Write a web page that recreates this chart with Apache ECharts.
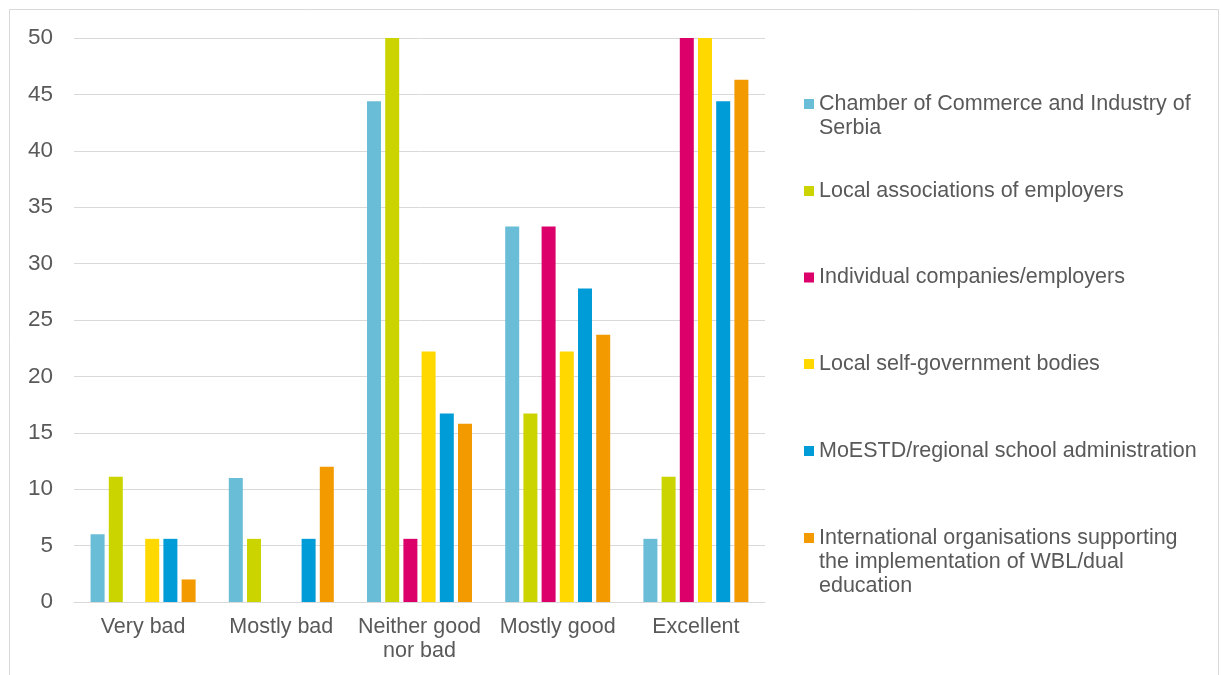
<!DOCTYPE html>
<html>
<head>
<meta charset="utf-8">
<script src="https://cdn.jsdelivr.net/npm/echarts@6/dist/echarts.min.js"></script>
<style>
  html, body { margin: 0; padding: 0; background: #ffffff; }
  #chart { width: 1221px; height: 675px; }
</style>
</head>
<body>
<div id="chart"></div>
<script>
// Ratings given to each partner type (% of respondents)
const categories = ['Very bad', 'Mostly bad', 'Neither good\nnor bad', 'Mostly good', 'Excellent'];

const seriesNames = [
  'Chamber of Commerce and Industry of Serbia',
  'Local associations of employers',
  'Individual companies/employers',
  'Local self-government bodies',
  'MoESTD/regional school administration',
  'International organisations supporting the implementation of WBL/dual education'
];

const legendLabels = [
  'Chamber of Commerce and Industry of\nSerbia',
  'Local associations of employers',
  'Individual companies/employers',
  'Local self-government bodies',
  'MoESTD/regional school administration',
  'International organisations supporting\nthe implementation of WBL/dual\neducation'
];

const chamberValues     = [6.0, 11.0, 44.4, 33.3, 5.6];
const localAssocValues  = [11.1, 5.6, 55.6, 16.7, 11.1];
const companiesValues   = [0, 0, 5.6, 33.3, 55.6];
const selfGovValues     = [5.6, 0, 22.2, 22.2, 50.0];
const moestdValues      = [5.6, 5.6, 16.7, 27.8, 44.4];
const internationalValues = [2.0, 12.0, 15.8, 23.7, 46.3];

const yTicks = { min: 0, max: 50, interval: 5 };

const colors = ['#69bdd7', '#ccd400', '#dc006b', '#ffd800', '#009cd7', '#f29a00'];
const seriesValues = [chamberValues, localAssocValues, companiesValues, selfGovValues, moestdValues, internationalValues];

const FONT = '"Liberation Sans", Arial, sans-serif';
const TEXT = '#595959';
const GRID_LINE = '#d9d9d9';

// One legend block per series, icon aligned with the first text line
const LEGEND_LINE_H = 24;
const legendIconCenters = [104, 191, 277.5, 364, 451, 538];
const legends = seriesNames.map((name, i) => {
  const lines = legendLabels[i].split('\n');
  const pad = lines.length - 1; // blank lines above keep the first line on the icon
  const label = '\n'.repeat(pad) + legendLabels[i];
  const totalLines = lines.length + pad;
  const blockH = Math.max(10, totalLines * LEGEND_LINE_H);
  return {
    data: [name],
    orient: 'vertical',
    left: 804,
    top: legendIconCenters[i] - blockH / 2,
    padding: 0,
    itemWidth: 10,
    itemHeight: 10,
    icon: 'rect',
    selectedMode: false,
    formatter: () => label,
    textStyle: { fontFamily: FONT, fontSize: 21.5, color: TEXT, lineHeight: LEGEND_LINE_H }
  };
});

const chart = echarts.init(document.getElementById('chart'), null, { renderer: 'canvas' });

chart.setOption({
  backgroundColor: '#ffffff',
  animation: false,
  color: colors,
  graphic: [{
    type: 'rect',
    shape: { x: 9.5, y: 9.5, width: 1209, height: 720 },
    style: { fill: 'none', stroke: GRID_LINE, lineWidth: 1 },
    silent: true,
    z: -1
  }],
  grid: { left: 74, right: 456, top: 38, bottom: 73 },
  legend: legends,
  xAxis: {
    type: 'category',
    data: categories,
    axisLine: { lineStyle: { color: GRID_LINE, width: 1 } },
    axisTick: { show: false },
    axisLabel: {
      fontFamily: FONT, fontSize: 21.5, color: TEXT,
      lineHeight: 24, margin: 13, interval: 0
    }
  },
  yAxis: {
    type: 'value',
    min: yTicks.min, max: yTicks.max, interval: yTicks.interval,
    axisLine: { show: false },
    axisTick: { show: false },
    splitLine: { lineStyle: { color: GRID_LINE, width: 1 } },
    axisLabel: { fontFamily: FONT, fontSize: 22.5, color: TEXT, margin: 21 }
  },
  series: seriesNames.map((name, i) => ({
    name: name,
    type: 'bar',
    data: seriesValues[i],
    barWidth: 14,
    barGap: '30%',
    clip: true,
    itemStyle: { color: colors[i] }
  }))
});
</script>
</body>
</html>
